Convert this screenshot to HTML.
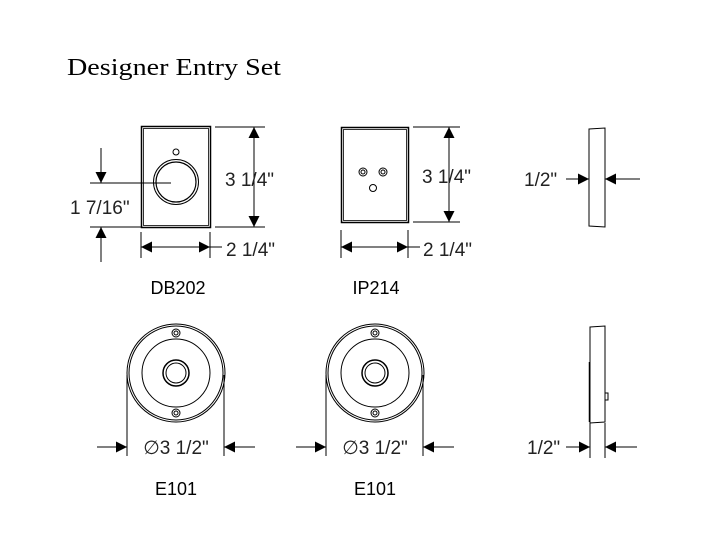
<!DOCTYPE html>
<html><head><meta charset="utf-8"><style>html,body{margin:0;padding:0;background:#fff}svg{display:block}</style></head>
<body>
<svg width="711" height="558" viewBox="0 0 711 558" xmlns="http://www.w3.org/2000/svg">
<defs>
<marker id="a" viewBox="0 0 10 10" refX="10" refY="5" markerWidth="11" markerHeight="11" markerUnits="userSpaceOnUse" orient="auto"><path d="M0,0L10,5L0,10z" fill="#000"/></marker>
</defs>
<text x="67" y="75" font-family="Liberation Serif, serif" font-size="24" textLength="214" lengthAdjust="spacingAndGlyphs">Designer Entry Set</text>
<g stroke="#000" fill="none" stroke-width="1">
<rect x="141.5" y="126.5" width="69" height="101" stroke-width="1.5"/>
<rect x="143.5" y="128.5" width="65" height="97" stroke-width="0.8"/>
<circle cx="176" cy="182" r="22.5" stroke-width="1"/>
<circle cx="176" cy="182" r="20" stroke-width="1.2"/>
<circle cx="176" cy="152" r="3"/>
<line x1="90" y1="183" x2="171" y2="183"/>
<line x1="90" y1="227" x2="141" y2="227"/>
<line x1="101" y1="148" x2="101" y2="183" marker-end="url(#a)"/>
<line x1="101" y1="262" x2="101" y2="227" marker-end="url(#a)"/>
<line x1="215" y1="127" x2="265" y2="127"/>
<line x1="215" y1="227" x2="265" y2="227"/>
<line x1="254" y1="177" x2="254" y2="127" marker-end="url(#a)"/>
<line x1="254" y1="177" x2="254" y2="227" marker-end="url(#a)"/>
<line x1="141" y1="232" x2="141" y2="258"/>
<line x1="210" y1="232" x2="210" y2="258"/>
<line x1="176" y1="247" x2="141" y2="247" marker-end="url(#a)"/>
<line x1="176" y1="247" x2="210" y2="247" marker-end="url(#a)"/>
<line x1="210" y1="247" x2="222" y2="247"/>
<rect x="341.5" y="127.5" width="67" height="95" stroke-width="1.5"/>
<rect x="343.5" y="129.5" width="63" height="91" stroke-width="0.8"/>
<circle cx="363" cy="172" r="4"/><circle cx="363" cy="172" r="2"/>
<circle cx="383" cy="172" r="4"/><circle cx="383" cy="172" r="2"/>
<circle cx="373" cy="188" r="3.5"/>
<line x1="413" y1="127" x2="460" y2="127"/>
<line x1="413" y1="222" x2="460" y2="222"/>
<line x1="449" y1="175" x2="449" y2="127" marker-end="url(#a)"/>
<line x1="449" y1="175" x2="449" y2="222" marker-end="url(#a)"/>
<line x1="341" y1="230" x2="341" y2="258"/>
<line x1="408" y1="230" x2="408" y2="258"/>
<line x1="375" y1="247" x2="341" y2="247" marker-end="url(#a)"/>
<line x1="375" y1="247" x2="408" y2="247" marker-end="url(#a)"/>
<line x1="408" y1="247" x2="420" y2="247"/>
<path d="M589,129 L605,128 L605,227 L589,226 Z"/>
<line x1="566" y1="179" x2="589" y2="179" marker-end="url(#a)"/>
<line x1="640" y1="179" x2="605" y2="179" marker-end="url(#a)"/>
<g id="e">
<circle cx="176" cy="373" r="49"/>
<circle cx="176" cy="373" r="47"/>
<circle cx="176" cy="373" r="34"/>
<circle cx="176" cy="373" r="13" stroke-width="1.5"/>
<circle cx="176" cy="373" r="10"/>
<circle cx="176" cy="333" r="4"/><circle cx="176" cy="333" r="2"/>
<circle cx="176" cy="413" r="4"/><circle cx="176" cy="413" r="2"/>
<line x1="127" y1="375" x2="127" y2="456"/>
<line x1="224" y1="375" x2="224" y2="456"/>
<line x1="97" y1="447" x2="127" y2="447" marker-end="url(#a)"/>
<line x1="255" y1="447" x2="224" y2="447" marker-end="url(#a)"/>
</g>
<use href="#e" x="199"/>
<path d="M590,327 L605,326 L605,422 L590,423 Z"/>
<line x1="589.5" y1="362" x2="589.5" y2="422" stroke-width="1.5"/>
<rect x="605" y="393" width="3" height="7"/>
<line x1="590" y1="423" x2="590" y2="458"/>
<line x1="605" y1="423" x2="605" y2="458"/>
<line x1="566" y1="447" x2="590" y2="447" marker-end="url(#a)"/>
<line x1="637" y1="447" x2="605" y2="447" marker-end="url(#a)"/>
</g>
<g font-family="Liberation Sans, sans-serif" font-size="19" fill="#222">
<text x="225" y="186">3 1/4"</text>
<text x="70" y="214">1 7/16"</text>
<text x="226" y="256">2 1/4"</text>
<text x="422" y="183">3 1/4"</text>
<text x="423" y="256">2 1/4"</text>
<text x="524" y="186">1/2"</text>
<text x="527" y="454">1/2"</text>
<text x="176" y="454" text-anchor="middle">∅3 1/2"</text>
<text x="375" y="454" text-anchor="middle">∅3 1/2"</text>
</g>
<g font-family="Liberation Sans, sans-serif" font-size="18" fill="#000" text-anchor="middle">
<text x="178" y="294">DB202</text>
<text x="376" y="294">IP214</text>
<text x="176" y="495">E101</text>
<text x="375" y="495">E101</text>
</g>
</svg>
</body></html>
